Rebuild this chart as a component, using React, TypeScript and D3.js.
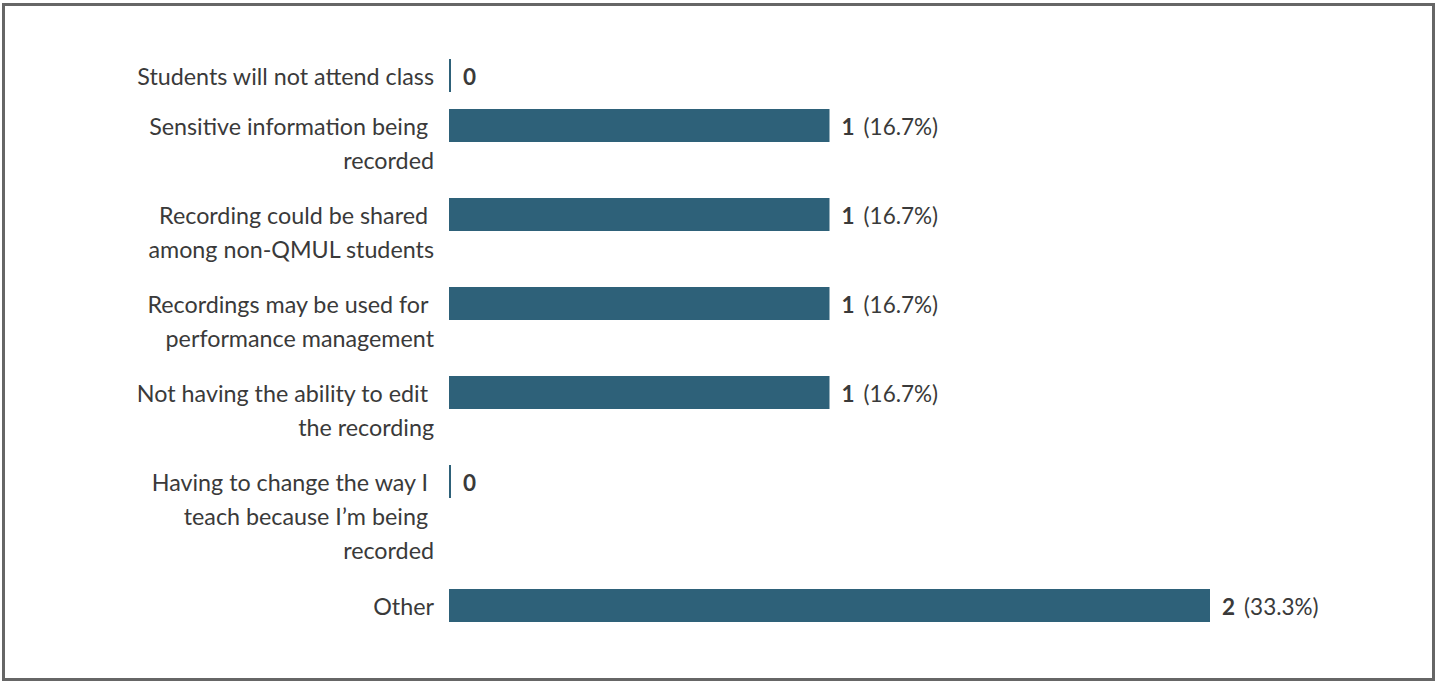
import React from "react";
import * as d3 from "d3";

const categories: string[][] = [
  ["Students will not attend class"],
  ["Sensitive information being", "recorded"],
  ["Recording could be shared", "among non-QMUL students"],
  ["Recordings may be used for", "performance management"],
  ["Not having the ability to edit", "the recording"],
  ["Having to change the way I", "teach because I\u2019m being", "recorded"],
  ["Other"],
];
const counts: number[] = [0, 1, 1, 1, 1, 0, 2];
const percents: string[] = ["", "16.7%", "16.7%", "16.7%", "16.7%", "", "33.3%"];

const W = 1435;
const H = 681;
const BAR_COLOR = "#2e6179";
const TEXT_COLOR = "#3a3a3a";
const FONT = "Lato, 'Noto Sans', sans-serif";

export default function App() {
  const x = d3.scaleLinear().domain([0, 2]).range([449, 1210]);
  const barH = 33;
  const lineH = 34;
  const top0 = 59;

  // cumulative row tops depending on label line count
  const tops: number[] = [];
  let t = top0;
  categories.forEach((lines) => {
    tops.push(t);
    t += lines.length === 1 ? 50 : 35 * lines.length + 19;
  });

  return (
    <svg
      width={W}
      height={H}
      style={{ position: "absolute", left: 0, top: 0, display: "block", background: "#fff" }}
      fontFamily={FONT}
    >
      <rect x={3.5} y={4.5} width={1430} height={675} fill="none" stroke="#666" strokeWidth={3} />
      {categories.map((lines, i) => {
        const y0 = tops[i];
        const cy = y0 + barH / 2;
        const v = counts[i];
        const w = Math.max(2, x(v) - x(0));
        const xe = x(0) + w;
        return (
          <g key={i}>
            {lines.map((ln, j) => (
              <text
                key={j}
                x={434}
                y={cy + j * lineH}
                textAnchor="end"
                dominantBaseline="central"
                fontSize={23.3}
                fill={TEXT_COLOR}
                style={{ whiteSpace: "pre" }}
              >
                {j < lines.length - 1 ? ln + " " : ln}
              </text>
            ))}
            <rect x={x(0)} y={y0} width={w} height={barH} fill={BAR_COLOR} />
            <text x={xe + 12} y={cy} dominantBaseline="central" fontSize={22.5} fill={TEXT_COLOR}>
              <tspan fontWeight="bold">{v}</tspan>
              {percents[i] ? <tspan dx={9}>({percents[i]})</tspan> : null}
            </text>
          </g>
        );
      })}
    </svg>
  );
}
